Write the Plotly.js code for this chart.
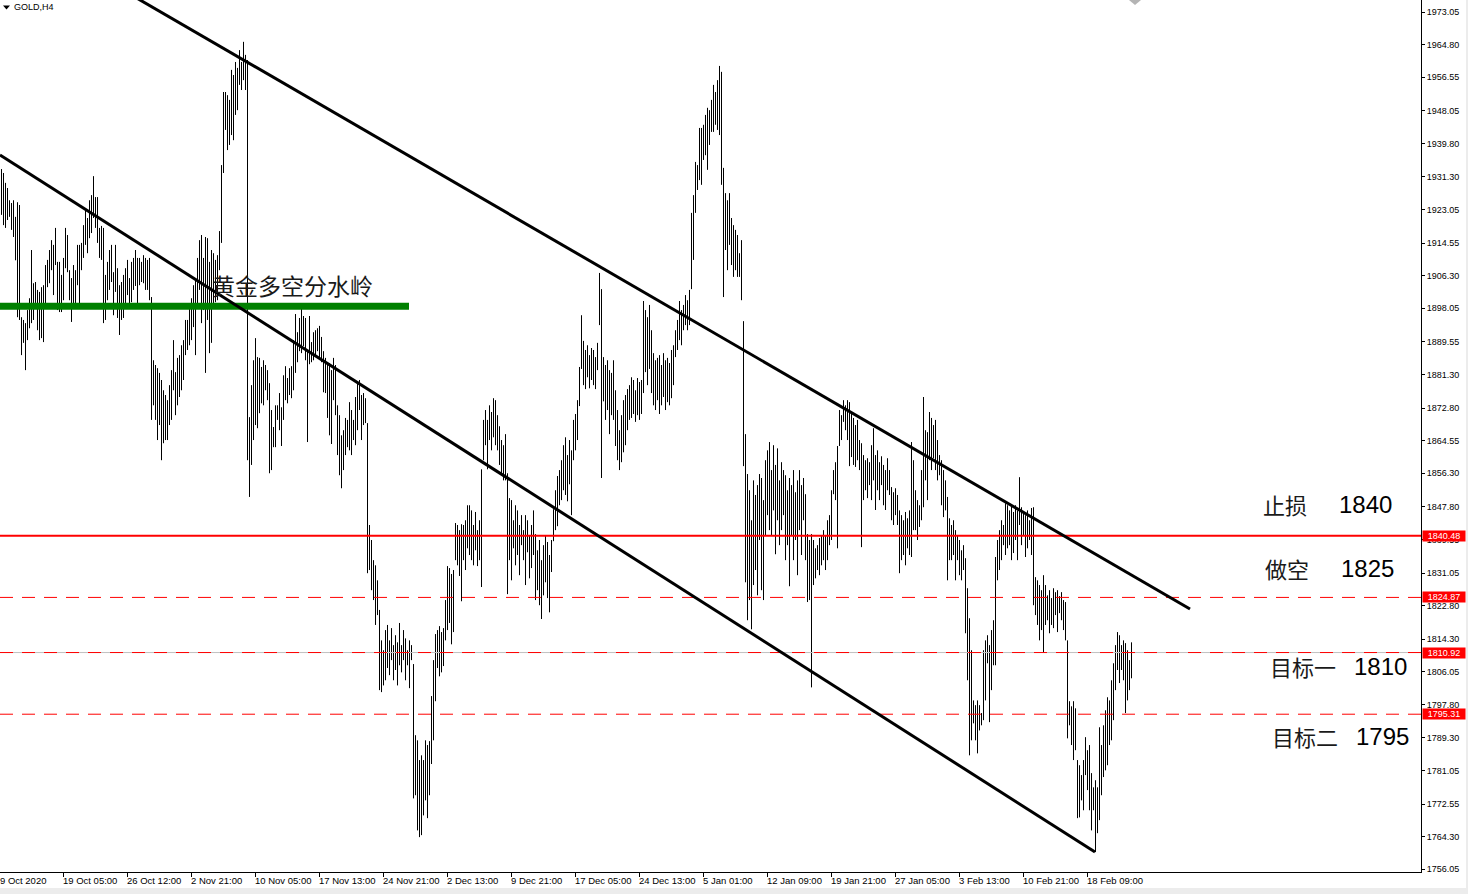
<!DOCTYPE html>
<html><head><meta charset="utf-8">
<script src="https://cdn.plot.ly/plotly-3.0.1.min.js"></script>
<style>html,body{margin:0;padding:0;background:#fff;overflow:hidden}#chart{width:1468px;height:894px}</style>
</head><body><div id="chart"></div>
<script>
// ---------------- DATA ----------------
const symbolTitle = "GOLD,H4";
// H4 bar highs
const high = [
1933.3,1932.3,1929.8,1928.5,1925.4,1924.7,1925.4,1921.2,1924.9,1924.2,
1895.8,1895.1,1894.3,1897.6,1900.6,1912.8,1904.4,1904.7,1902.7,1902.2,
1903.4,1903.9,1909.0,1910.3,1912.8,1915.3,1914.1,1918.4,1909.8,1909.8,
1906.5,1910.8,1918.4,1916.6,1907.7,1905.7,1909.0,1907.7,1914.1,1914.1,
1914.6,1919.1,1922.9,1920.9,1925.4,1926.7,1931.5,1926.2,1926.2,1918.4,
1918.9,1918.4,1906.5,1909.8,1912.8,1914.1,1907.2,1914.1,1908.2,1903.9,
1904.7,1906.5,1908.2,1910.3,1905.7,1909.8,1910.8,1912.8,1910.8,1910.8,
1909.8,1911.5,1910.8,1910.3,1910.8,1900.9,1884.9,1883.7,1882.9,1881.7,
1879.9,1877.3,1876.1,1874.8,1878.6,1882.4,1890.0,1881.9,1885.5,1886.2,
1888.7,1890.0,1895.1,1895.1,1898.1,1900.6,1903.9,1905.7,1910.8,1915.3,
1916.6,1910.8,1916.1,1915.8,1909.8,1912.8,1912.0,1910.3,1911.5,1917.6,
1934.3,1952.8,1952.8,1952.0,1950.8,1958.4,1957.1,1960.4,1958.9,1963.4,
1960.4,1965.5,1962.2,1960.9,1870.5,1878.6,1884.9,1890.5,1885.7,1885.5,
1883.2,1884.9,1883.7,1882.4,1879.1,1872.3,1868.0,1873.5,1873.5,1876.6,
1873.0,1881.1,1883.4,1880.4,1882.9,1883.4,1890.0,1896.6,1892.0,1895.6,
1898.9,1896.1,1895.6,1887.5,1896.1,1889.5,1892.0,1892.5,1893.0,1893.6,
1890.8,1887.2,1885.5,1883.7,1884.2,1882.4,1885.5,1883.7,1873.5,1871.0,
1865.9,1867.2,1870.3,1869.8,1874.3,1872.3,1869.8,1875.6,1879.4,1879.9,
1876.1,1876.6,1875.3,1869.0,1843.2,1839.4,1834.3,1833.0,1829.2,1821.7,
1814.0,1811.5,1816.6,1817.9,1814.0,1817.1,1812.8,1815.3,1813.5,1818.4,
1812.8,1816.6,1814.5,1811.5,1814.0,1812.8,1808.0,1790.0,1788.7,1783.7,
1784.9,1783.7,1788.7,1787.5,1788.5,1799.9,1809.0,1815.6,1816.6,1817.6,
1816.1,1817.1,1824.2,1832.8,1832.3,1830.8,1831.8,1843.7,1843.2,1841.9,
1843.4,1843.2,1844.4,1848.2,1848.2,1846.9,1843.2,1846.5,1841.9,1844.4,
1857.3,1869.8,1872.3,1869.8,1873.5,1871.8,1875.3,1874.8,1871.0,1868.2,
1864.7,1863.4,1866.2,1856.3,1850.0,1849.5,1844.4,1848.2,1846.9,1843.2,
1845.7,1841.9,1845.7,1844.4,1840.6,1843.2,1846.9,1840.9,1836.8,1839.4,
1834.3,1838.1,1840.6,1838.9,1835.6,1839.4,1847.2,1852.0,1855.6,1857.1,
1859.6,1863.4,1865.4,1860.9,1864.7,1862.1,1869.8,1871.3,1874.8,1883.2,
1896.3,1889.8,1887.5,1888.7,1886.2,1888.0,1887.5,1885.7,1889.3,1907.0,
1902.9,1885.7,1883.7,1884.9,1882.4,1881.7,1884.9,1877.3,1872.3,1867.2,
1871.0,1874.8,1876.1,1877.6,1878.6,1880.6,1879.9,1877.3,1880.4,1879.4,
1879.9,1899.9,1897.6,1895.8,1898.9,1892.5,1886.7,1884.9,1885.5,1886.2,
1883.7,1886.7,1884.9,1885.5,1884.2,1887.5,1888.7,1892.5,1895.1,1899.9,
1897.6,1898.9,1901.4,1900.1,1902.7,1922.2,1926.7,1935.1,1934.3,1943.7,
1943.7,1944.5,1947.0,1948.8,1948.2,1950.8,1954.6,1952.8,1955.8,1959.4,
1957.9,1933.6,1927.2,1925.4,1927.2,1920.9,1919.1,1917.9,1916.6,1912.0,
1915.3,1894.8,1866.2,1856.1,1852.0,1844.4,1854.5,1850.8,1853.3,1856.1,
1855.1,1849.5,1859.6,1862.1,1864.2,1857.1,1863.4,1858.4,1862.6,1854.5,
1859.1,1857.1,1855.8,1852.0,1855.1,1853.3,1857.1,1851.5,1854.5,1857.1,
1853.3,1855.1,1851.0,1840.9,1839.4,1840.9,1839.4,1837.3,1838.1,1839.9,
1840.6,1841.9,1840.6,1844.4,1845.7,1852.0,1857.1,1859.1,1863.2,1872.3,
1871.0,1874.8,1873.5,1874.8,1874.3,1871.8,1870.3,1868.5,1869.8,1864.7,
1863.9,1860.9,1859.6,1860.1,1859.1,1863.4,1867.7,1860.9,1862.1,1859.1,
1860.6,1858.4,1857.1,1860.1,1857.1,1852.8,1851.5,1852.5,1850.8,1846.9,
1845.7,1844.4,1846.5,1844.9,1846.9,1864.2,1859.6,1852.0,1849.5,1848.2,
1857.1,1875.6,1867.2,1866.7,1871.8,1870.3,1868.5,1869.8,1864.7,1860.9,
1859.6,1857.1,1854.5,1850.3,1844.9,1843.2,1844.4,1841.9,1840.6,1839.4,
1836.8,1838.1,1834.8,1827.2,1819.6,1811.5,1798.8,1797.6,1798.8,1797.6,
1795.6,1811.5,1814.0,1815.3,1812.8,1816.6,1819.1,1835.1,1839.4,1841.9,
1844.4,1843.2,1848.7,1848.2,1846.9,1848.2,1846.5,1848.2,1846.9,1855.3,
1847.7,1846.5,1845.7,1846.9,1844.4,1847.5,1847.7,1830.0,1829.2,1828.0,
1826.7,1830.5,1828.0,1825.4,1826.7,1824.7,1827.2,1826.2,1826.7,1825.2,
1826.2,1824.2,1823.7,1814.0,1798.6,1797.3,1798.6,1796.8,1783.7,1782.4,
1779.9,1783.7,1789.5,1786.2,1787.5,1780.4,1776.8,1778.6,1776.8,1792.0,
1787.5,1792.5,1796.3,1799.6,1798.8,1803.9,1808.2,1812.8,1816.1,1815.3,
1812.8,1814.0,1813.3,1811.5,1809.0,1813.5
];
// H4 bar lows
const low = [
1921.7,1919.1,1918.4,1920.4,1921.2,1917.9,1916.1,1910.2,1895.8,1895.1,
1886.2,1889.3,1882.4,1890.0,1893.0,1894.3,1895.1,1899.4,1892.5,1890.0,
1890.5,1889.5,1898.9,1903.4,1904.4,1907.7,1901.4,1909.0,1897.6,1897.1,
1897.1,1900.1,1908.2,1907.2,1900.1,1894.6,1898.9,1898.9,1903.9,1898.9,
1907.7,1910.8,1914.1,1912.0,1915.8,1917.1,1920.9,1918.4,1914.6,1910.8,
1910.3,1894.3,1895.1,1900.1,1902.7,1904.7,1896.3,1902.2,1895.6,1891.3,
1895.1,1895.6,1898.9,1901.4,1898.1,1899.6,1902.7,1903.7,1898.9,1903.9,
1904.7,1904.4,1902.7,1902.7,1900.1,1869.8,1873.5,1869.8,1864.7,1868.5,
1859.6,1863.9,1864.7,1864.7,1868.5,1869.8,1877.3,1871.0,1873.5,1875.6,
1877.3,1879.9,1886.2,1887.5,1888.7,1890.0,1893.3,1886.2,1898.9,1902.7,
1894.3,1897.6,1881.7,1895.1,1886.7,1889.3,1898.9,1899.6,1900.1,1907.7,
1914.6,1932.3,1943.2,1938.1,1939.4,1941.9,1940.6,1947.0,1948.2,1954.6,
1953.3,1955.8,1953.3,1859.6,1850.3,1858.4,1864.7,1868.5,1867.7,1871.5,
1874.0,1873.5,1877.3,1874.8,1856.3,1857.1,1862.9,1862.9,1869.8,1867.2,
1863.2,1869.8,1874.8,1874.0,1876.1,1875.3,1877.3,1881.7,1884.4,1887.2,
1886.7,1888.5,1884.9,1864.2,1883.9,1884.4,1884.9,1885.7,1887.2,1885.7,
1884.4,1876.8,1876.6,1870.3,1865.9,1863.7,1874.8,1871.0,1860.9,1855.8,
1852.5,1857.1,1860.9,1862.9,1862.1,1860.9,1864.7,1863.4,1867.2,1872.3,
1864.7,1868.5,1869.0,1831.0,1831.8,1826.7,1824.2,1817.9,1820.4,1801.4,
1800.9,1802.6,1803.9,1807.0,1805.2,1809.0,1803.9,1806.5,1802.6,1807.7,
1805.9,1809.0,1803.9,1807.7,1801.9,1809.0,1774.0,1774.8,1765.9,1764.2,
1764.7,1769.7,1773.5,1769.0,1774.8,1782.7,1788.7,1798.6,1807.0,1804.9,
1805.9,1807.5,1814.0,1816.6,1818.4,1813.0,1816.1,1834.3,1833.0,1830.3,
1823.9,1834.3,1831.8,1837.3,1835.6,1834.3,1833.0,1836.8,1832.8,1834.3,
1827.5,1859.6,1863.4,1857.3,1864.7,1862.1,1865.4,1863.4,1862.1,1858.4,
1855.8,1854.5,1854.5,1825.7,1834.3,1829.2,1837.3,1833.0,1835.6,1830.5,
1838.1,1834.3,1828.0,1836.3,1829.7,1832.3,1835.6,1824.2,1826.7,1822.9,
1819.4,1825.4,1828.7,1824.7,1821.1,1831.3,1839.1,1841.9,1842.9,1848.2,
1849.5,1852.0,1850.8,1849.2,1853.5,1845.7,1859.6,1862.1,1864.7,1873.3,
1882.7,1878.6,1877.6,1880.6,1877.8,1879.9,1878.6,1877.6,1882.4,1893.8,
1855.1,1874.5,1869.8,1872.3,1866.2,1871.0,1869.8,1863.2,1859.6,1857.1,
1859.1,1861.6,1863.4,1867.2,1869.8,1870.3,1871.3,1869.3,1871.0,1869.8,
1871.3,1876.6,1881.9,1878.6,1882.7,1876.6,1873.5,1872.3,1874.8,1871.3,
1873.5,1875.6,1872.3,1874.3,1873.5,1875.3,1878.6,1885.7,1887.5,1890.0,
1888.7,1892.5,1893.8,1892.5,1893.8,1902.9,1910.3,1922.2,1928.0,1930.5,
1929.3,1935.6,1936.8,1933.1,1939.4,1942.7,1942.7,1944.5,1943.2,1941.9,
1929.3,1900.9,1912.8,1907.7,1914.1,1909.0,1906.0,1907.7,1906.0,1906.0,
1900.1,1858.1,1828.7,1819.1,1824.2,1816.8,1828.0,1831.8,1825.4,1839.4,
1826.7,1824.2,1840.6,1845.7,1841.9,1840.6,1846.9,1835.8,1844.4,1838.1,
1841.9,1845.7,1834.3,1838.1,1827.7,1840.6,1834.3,1839.4,1830.5,1841.9,
1835.6,1844.4,1834.3,1823.7,1824.2,1802.1,1828.0,1829.7,1831.8,1830.5,
1833.0,1834.3,1831.8,1834.3,1838.1,1839.4,1851.0,1849.5,1837.3,1863.2,
1864.7,1869.3,1867.2,1864.7,1858.1,1860.4,1858.4,1857.9,1859.6,1857.1,
1837.6,1849.5,1852.0,1850.0,1853.3,1849.5,1854.5,1847.0,1852.0,1849.5,
1853.3,1848.2,1847.0,1852.0,1850.8,1844.4,1843.2,1845.7,1843.2,1831.0,
1834.3,1835.6,1833.0,1837.3,1835.6,1835.1,1841.9,1841.9,1839.4,1842.7,
1844.4,1847.7,1854.5,1849.5,1859.6,1857.1,1860.1,1857.1,1854.5,1855.8,
1848.2,1845.2,1846.9,1829.2,1834.3,1834.3,1835.6,1829.2,1834.3,1830.5,
1829.2,1831.8,1815.8,1803.9,1784.9,1788.7,1793.0,1788.7,1785.4,1791.2,
1792.5,1793.8,1798.8,1808.2,1793.3,1801.4,1807.7,1807.7,1829.2,1831.8,
1834.3,1838.1,1835.6,1837.3,1838.1,1834.3,1836.1,1839.4,1834.3,1843.2,
1838.1,1840.6,1835.1,1837.3,1839.4,1835.6,1822.9,1820.4,1817.9,1814.0,
1816.6,1810.8,1817.9,1819.1,1815.8,1817.9,1817.1,1820.4,1816.1,1820.9,
1819.1,1816.6,1814.0,1789.2,1792.5,1787.5,1783.7,1786.2,1769.0,1769.2,
1773.5,1771.0,1779.9,1776.1,1771.0,1765.9,1771.0,1760.4,1765.2,1768.5,
1774.8,1779.4,1781.1,1782.4,1787.5,1788.7,1793.8,1801.4,1806.5,1803.2,
1806.5,1803.9,1795.6,1798.8,1801.4,1804.4
];
const firstTimeLabel = "9 Oct 2020";
const timeLabels = ["19 Oct 05:00","26 Oct 12:00","2 Nov 21:00","10 Nov 05:00","17 Nov 13:00",
  "24 Nov 21:00","2 Dec 13:00","9 Dec 21:00","17 Dec 05:00","24 Dec 13:00","5 Jan 01:00",
  "12 Jan 09:00","19 Jan 21:00","27 Jan 05:00","3 Feb 13:00","10 Feb 21:00","18 Feb 09:00"];
const priceTicks = [1973.05,1964.80,1956.55,1948.05,1939.80,1931.30,1923.05,1914.55,1906.30,
  1898.05,1889.55,1881.30,1872.80,1864.55,1856.30,1847.80,1839.55,1831.05,1822.80,1814.30,
  1806.05,1797.80,1789.30,1781.05,1772.55,1764.30,1756.05];
const levelPrices = [1840.48, 1824.87, 1810.92, 1795.31];
const planNames = ["止损","做空","目标一","目标二"];
const planPrices = ["1840","1825","1810","1795"];
const zoneLabel = "黄金多空分水岭";
const zonePrice = 1898.6;
const zoneEndBar = 203.75;
// trend channel anchors: [bar index, price]
const trendUpperX = [60.65, 594.25], trendUpperY = [1978.62, 1821.95];
const trendLowerX = [-0.75, 546.75], trendLowerY = [1936.86, 1760.44];

// ---------------- LAYOUT ----------------
const W = 1468, H = 894, M = {l:0, r:47, t:0, b:22};
const PW = W - M.l - M.r, PH = H - M.t - M.b;
const xRange = [-0.75, -0.75 + PW / 2];
const yRange = [1755.37, 1976.087];
const pxX = px => px / PW;          // pixel -> paper x
const pxY = py => 1 - py / PH;      // pixel -> paper y
const barAtPx = px => (px - 1.5) / 2;

const bx = [], by = [];
high.forEach((h, i) => { bx.push(i, i, null); by.push(low[i], h, null); });

const bars = {
  type: 'scatter', mode: 'lines', x: bx, y: by,
  line: {color: '#000000', width: 1}, hoverinfo: 'skip', showlegend: false
};

const tickBars = timeLabels.map((_, k) => barAtPx(63.5 + 64 * k));

const shapes = [];
shapes.push({type:'line', xref:'paper', x0:0, x1:1, yref:'y', y0:levelPrices[2], y1:levelPrices[2], line:{color:'#c0c0c0', width:1}});
shapes.push({type:'line', xref:'paper', x0:0, x1:1, yref:'y', y0:levelPrices[0], y1:levelPrices[0], line:{color:'#ff0000', width:2}});
[1,2,3].forEach(j => shapes.push({type:'line', xref:'paper', x0:0, x1:1, yref:'y', y0:levelPrices[j], y1:levelPrices[j], line:{color:'#ff0000', width:1, dash:'13px,9px'}}));
shapes.push({type:'line', xref:'x', yref:'y', x0:xRange[0], x1:zoneEndBar, y0:zonePrice, y1:zonePrice, line:{color:'#008000', width:7}});
shapes.push({type:'line', xref:'x', yref:'y', x0:trendUpperX[0], x1:trendUpperX[1], y0:trendUpperY[0], y1:trendUpperY[1], line:{color:'#000000', width:3}});
shapes.push({type:'line', xref:'x', yref:'y', x0:trendLowerX[0], x1:trendLowerX[1], y0:trendLowerY[0], y1:trendLowerY[1], line:{color:'#000000', width:3}});
shapes.push({type:'path', xref:'paper', yref:'paper', path:`M ${pxX(3)},${pxY(5.5)} L ${pxX(10)},${pxY(5.5)} L ${pxX(6.5)},${pxY(9.5)} Z`, fillcolor:'#000000', line:{width:0}});
shapes.push({type:'path', xref:'paper', yref:'paper', path:`M ${pxX(1129)},${pxY(0)} L ${pxX(1141)},${pxY(0)} L ${pxX(1135)},${pxY(5)} Z`, fillcolor:'#b4b4b4', line:{width:0}});
shapes.push({type:'rect', xref:'paper', yref:'paper', x0:pxX(-5), x1:pxX(1475), y0:pxY(888), y1:pxY(900), fillcolor:'#ececec', line:{width:0}});
shapes.push({type:'rect', xref:'paper', yref:'paper', x0:pxX(1466), x1:pxX(1475), y0:pxY(-5), y1:pxY(900), fillcolor:'#ececec', line:{width:0}});

const ann = [];
ann.push({xref:'paper', yref:'paper', x:pxX(13), y:pxY(7.5), xanchor:'left', yanchor:'middle', showarrow:false, text:symbolTitle, font:{family:'Liberation Sans, Arial', size:9, color:'#000'}, borderpad:0});
ann.push({xref:'paper', yref:'paper', x:pxX(211), y:pxY(285), xanchor:'left', yanchor:'middle', showarrow:false, text:zoneLabel, font:{family:'Noto Sans CJK SC', size:23, color:'#1a1a1a'}, borderpad:0});
const planCnX = [1262, 1264, 1269, 1271], planNumX = [1338, 1340, 1353, 1355], planY = [504, 568, 666, 736];
planNames.forEach((t, j) => {
  ann.push({xref:'paper', yref:'paper', x:pxX(planCnX[j]), y:pxY(planY[j]), xanchor:'left', yanchor:'middle', showarrow:false, text:t, font:{family:'Noto Sans CJK SC', size:22, color:'#1a1a1a'}, borderpad:0});
  ann.push({xref:'paper', yref:'paper', x:pxX(planNumX[j]), y:pxY(planY[j]), xanchor:'left', yanchor:'middle', showarrow:false, text:planPrices[j], font:{family:'Liberation Sans, Arial', size:24, color:'#000'}, borderpad:0});
});
levelPrices.forEach(p => {
  ann.push({xref:'paper', yref:'y', x:1, y:p, xshift:1, xanchor:'left', yanchor:'middle', showarrow:false, text:p.toFixed(2), font:{family:'Liberation Sans, Arial', size:9, color:'#ffffff'}, bgcolor:'#ff0000', width:42, height:10, borderpad:0, align:'center'});
});
ann.push({xref:'paper', yref:'paper', x:pxX(-1), y:pxY(881), xanchor:'left', yanchor:'middle', showarrow:false, text:firstTimeLabel, font:{family:'Liberation Sans, Arial', size:9.5, color:'#000'}, borderpad:0});
timeLabels.forEach((t, k) => {
  ann.push({xref:'x', yref:'paper', x:tickBars[k], y:pxY(881), xshift:-2, xanchor:'left', yanchor:'middle', showarrow:false, text:t, font:{family:'Liberation Sans, Arial', size:9.5, color:'#000'}, borderpad:0});
});

const layout = {
  width: W, height: H, margin: M,
  paper_bgcolor: '#ffffff', plot_bgcolor: '#ffffff',
  showlegend: false,
  xaxis: {range: xRange, showgrid:false, zeroline:false, showline:true, linecolor:'#000', linewidth:1,
          ticks:'outside', ticklen:4, tickcolor:'#000', tickwidth:1, tickmode:'array', tickvals:tickBars,
          showticklabels:false, fixedrange:true, automargin:false},
  yaxis: {range: yRange, side:'right', showgrid:false, zeroline:false, showline:true, linecolor:'#000', linewidth:1,
          ticks:'outside', ticklen:3, tickcolor:'#000', tickmode:'array', tickvals:priceTicks,
          ticktext: priceTicks.map(v => v.toFixed(2)),
          tickfont:{family:'Liberation Sans, Arial', size:9, color:'#000'}, fixedrange:true, automargin:false},
  shapes: shapes, annotations: ann
};
Plotly.newPlot('chart', [bars], layout, {staticPlot:true, displayModeBar:false});
</script>
</body></html>
